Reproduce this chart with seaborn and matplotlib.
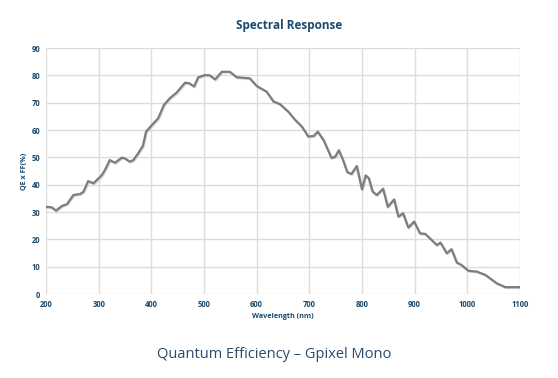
import matplotlib
matplotlib.use("Agg")
import matplotlib.pyplot as plt
import matplotlib.patheffects as pe
import seaborn as sns
import pandas as pd

wavelength = [200, 211, 219, 230, 240, 252, 265, 271, 280, 290, 306, 312, 321, 331, 344, 350,
              359, 366, 375, 384, 390, 401, 413, 424, 435, 448, 464, 472, 481, 489, 502, 511,
              521, 534, 549, 562, 587, 600, 619, 632, 644, 660, 673, 686, 698, 708, 716, 727,
              742, 749, 756, 764, 772, 780, 790, 800, 807, 813, 820, 828, 840, 849, 861, 869,
              878, 888, 899, 910, 920, 932, 942, 949, 961, 970, 980, 989, 1002, 1018, 1034,
              1056, 1072, 1100]
qe_ff = [31.9, 31.7, 30.5, 32.2, 32.9, 36.2, 36.6, 37.4, 41.3, 40.5, 43.5, 45.4, 49.0, 48.0,
         49.9, 49.6, 48.4, 49.0, 51.5, 54.2, 59.4, 61.8, 64.3, 69.2, 71.6, 73.7, 77.3, 77.1,
         75.9, 79.3, 80.1, 80.0, 78.5, 81.3, 81.3, 79.3, 78.9, 76.1, 74.0, 70.4, 69.5, 66.7,
         63.7, 61.2, 57.6, 57.8, 59.4, 56.3, 49.8, 50.2, 52.6, 49.0, 44.6, 43.9, 46.8, 38.3,
         43.4, 42.3, 37.5, 36.2, 38.5, 31.9, 34.6, 28.3, 29.5, 24.3, 26.5, 22.2, 22.0, 19.8,
         17.9, 18.8, 14.9, 16.4, 11.5, 10.6, 8.5, 8.2, 7.0, 3.9, 2.5, 2.5]

x_ticks = [200, 300, 400, 500, 600, 700, 800, 900, 1000, 1100]
y_ticks = [0, 10, 20, 30, 40, 50, 60, 70, 80, 90]

df = pd.DataFrame({"Wavelength (nm)": wavelength, "QE x FF(%)": qe_ff})

sns.set_theme(style="white")
plt.rcParams['font.family'] = ['Open Sans', 'DejaVu Sans']

navy = "#1b4a6e"
fig = plt.figure(figsize=(5.58, 3.78), dpi=100)
ax = fig.add_axes([46/558, 1 - 294/378, (520 - 46)/558, (294 - 48)/378])

sns.lineplot(data=df, x="Wavelength (nm)", y="QE x FF(%)", ax=ax, color="#7d7d7d",
             linewidth=1.6, solid_joinstyle="round", solid_capstyle="round",
             path_effects=[pe.SimpleLineShadow(offset=(0.6, -0.6), shadow_color="#bbbbbb", alpha=0.6),
                           pe.Normal()])

ax.set_xlim(200, 1100)
ax.set_ylim(0, 90)
ax.set_xticks(x_ticks)
ax.set_yticks(y_ticks)
ax.grid(True, color="#dcdcdc", linewidth=1.0)
ax.set_axisbelow(True)
for s in ax.spines.values():
    s.set_visible(False)
ax.tick_params(axis="both", length=0, labelsize=5.5, labelcolor=navy, pad=4)
for lab in ax.get_xticklabels() + ax.get_yticklabels():
    lab.set_fontweight("bold")

ax.set_xlabel("Wavelength (nm)", fontsize=5.2, fontweight="bold", color=navy, labelpad=3)
ax.set_ylabel("QE x FF(%)", fontsize=5.2, fontweight="bold", color=navy, labelpad=3)

fig.text(289/558, 1 - 26/378, "Spectral Response", ha="center", va="center",
         fontsize=8.5, fontweight="bold", color=navy)
fig.text(274/558, 1 - 354/378, "Quantum Efficiency \u2013 Gpixel Mono", ha="center", va="center",
         fontsize=10.5, color="#2a4a6a")

fig.savefig("out.png", dpi=100)
